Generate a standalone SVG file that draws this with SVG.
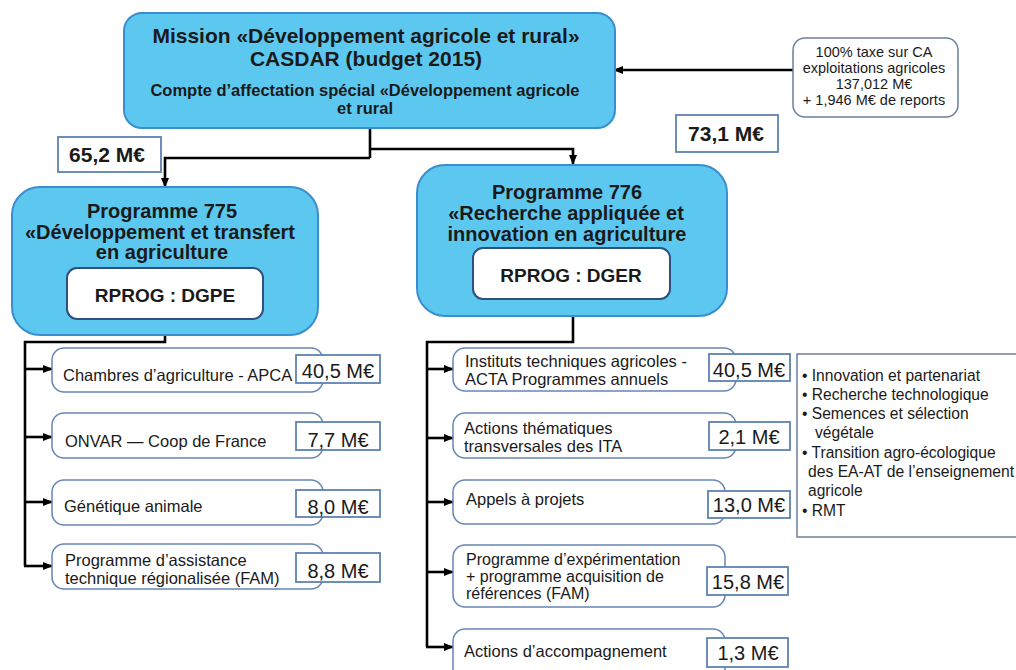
<svg xmlns="http://www.w3.org/2000/svg" width="1016" height="670" viewBox="0 0 1016 670">
<defs>
<marker id="ah" markerUnits="userSpaceOnUse" markerWidth="10" markerHeight="10" viewBox="0 0 10 10" refX="9" refY="5" orient="auto">
<path d="M0,1 L10,5 L0,9 z" fill="#000"/>
</marker>
<style>
.blue{fill:#5dc8ef;stroke:#3a8ecf;stroke-width:2}
.rprog{fill:#fff;stroke:#2f4f7f;stroke-width:2}
.item{fill:#fff;stroke:#6485b5;stroke-width:1.5}
.val{fill:#fff;stroke:#5f82b3;stroke-width:1.8}
.note{fill:#fff;stroke:#6b7f99;stroke-width:1.5}
.conn{fill:none;stroke:#000;stroke-width:2.6}
.arr{marker-end:url(#ah)}
text{font-family:"Liberation Sans",Arial,sans-serif;fill:#1a1a1a}
.t1{font-size:21px;font-weight:bold;text-anchor:middle}
.t2{font-size:16.5px;font-weight:bold;text-anchor:middle}
.tp{font-size:20px;font-weight:bold;text-anchor:middle}
.tr{font-size:19px;font-weight:bold;text-anchor:middle}
.tv{font-size:20px;text-anchor:middle}
.tvb{font-size:21px;font-weight:bold;text-anchor:middle}
.ti{font-size:16.5px}
.tm{font-size:16px}
.ts{font-size:14.5px;text-anchor:middle}
.tb{font-size:15.6px}
</style>
</defs>
<rect width="1016" height="670" fill="#fff"/>

<g id="connectors">
<path class="conn arr" d="M793,70 H614"/>
<path class="conn" d="M370,128 V158"/>
<path class="conn arr" d="M370,158 H165 V187"/>
<path class="conn arr" d="M370,149 H573 V164"/>
<path class="conn" d="M165,335 V342 H25 V566"/>
<path class="conn arr" d="M25,369 H52"/>
<path class="conn arr" d="M25,437 H52"/>
<path class="conn arr" d="M25,502 H52"/>
<path class="conn arr" d="M24,566 H52"/>
<path class="conn" d="M573,316 V342 H427 V647"/>
<path class="conn arr" d="M427,369 H453"/>
<path class="conn arr" d="M427,438 H453"/>
<path class="conn arr" d="M427,502 H453"/>
<path class="conn arr" d="M427,572 H453"/>
<path class="conn arr" d="M426,647 H453"/>
</g>

<g id="mission">
<rect class="blue" x="124" y="13" width="491" height="115" rx="18"/>
<text class="t1" x="366" y="43">Mission «Développement agricole et rural»</text>
<text class="t1" x="366" y="66">CASDAR (budget 2015)</text>
<text class="t2" x="365" y="96">Compte d’affectation spécial «Développement agricole</text>
<text class="t2" x="365" y="114">et rural</text>
</g>

<g id="source">
<rect class="note" x="793" y="38" width="165" height="79" rx="12"/>
<text class="ts" x="874" y="57">100% taxe sur CA</text>
<text class="ts" x="874" y="73">exploitations agricoles</text>
<text class="ts" x="874" y="89">137,012 M€</text>
<text class="ts" x="874" y="105">+ 1,946 M€ de reports</text>
</g>

<g id="amount-776">
<rect class="val" x="676" y="115" width="102" height="37"/>
<text class="tvb" x="726" y="141">73,1 M€</text>
</g>

<g id="amount-775">
<rect class="val" x="58" y="137" width="103" height="35"/>
<text class="tvb" x="107" y="162">65,2 M€</text>
</g>

<g id="prog775">
<rect class="blue" x="12" y="187" width="306" height="148" rx="28"/>
<text class="tp" x="162" y="218">Programme 775</text>
<text class="tp" x="160" y="239">«Développement et transfert</text>
<text class="tp" x="162" y="259">en agriculture</text>
<rect class="rprog" x="67" y="268" width="196" height="51" rx="10"/>
<text class="tr" x="165" y="302">RPROG : DGPE</text>
</g>

<g id="prog776">
<rect class="blue" x="417" y="165" width="310" height="151" rx="28"/>
<text class="tp" x="567" y="199">Programme 776</text>
<text class="tp" x="566" y="220">«Recherche appliquée et</text>
<text class="tp" x="567" y="241">innovation en agriculture</text>
<rect class="rprog" x="473" y="248" width="197" height="51" rx="10"/>
<text class="tr" x="571" y="282">RPROG : DGER</text>
</g>

<g id="item-apca">
<rect class="item" x="52" y="348" width="271" height="44" rx="12"/>
<text class="ti" x="63" y="381">Chambres d’agriculture - APCA</text>
<rect class="val" x="296" y="355" width="84" height="28"/>
<text class="tv" x="338" y="378">40,5 M€</text>
</g>
<g id="item-onvar">
<rect class="item" x="52" y="413" width="271" height="45" rx="12"/>
<text class="ti" x="65" y="447">ONVAR — Coop de France</text>
<rect class="val" x="296" y="422" width="84" height="28"/>
<text class="tv" x="338" y="447">7,7 M€</text>
</g>
<g id="item-genetique">
<rect class="item" x="52" y="480" width="271" height="45" rx="12"/>
<text class="ti" x="64" y="512">Génétique animale</text>
<rect class="val" x="296" y="490" width="84" height="27"/>
<text class="tv" x="338" y="514">8,0 M€</text>
</g>
<g id="item-assistance">
<rect class="item" x="52" y="544" width="271" height="45" rx="12"/>
<text class="ti" x="65" y="566">Programme d’assistance</text>
<text class="ti" x="65" y="584">technique régionalisée (FAM)</text>
<rect class="val" x="296" y="553" width="84" height="29"/>
<text class="tv" x="338" y="578">8,8 M€</text>
</g>

<g id="item-instituts">
<rect class="item" x="453" y="348" width="283" height="43" rx="12"/>
<text class="ti" x="465" y="367">Instituts techniques agricoles -</text>
<text class="ti" x="465" y="385">ACTA Programmes annuels</text>
<rect class="val" x="709" y="354" width="81" height="27"/>
<text class="tv" x="749" y="377">40,5 M€</text>
</g>
<g id="item-actions-ita">
<rect class="item" x="453" y="413" width="283" height="45" rx="12"/>
<text class="ti" x="464" y="434">Actions thématiques</text>
<text class="ti" x="464" y="452">transversales des ITA</text>
<rect class="val" x="709" y="422" width="81" height="28"/>
<text class="tv" x="749" y="444">2,1 M€</text>
</g>
<g id="item-appels">
<rect class="item" x="453" y="480" width="272" height="44" rx="12"/>
<text class="ti" x="466" y="505">Appels à projets</text>
<rect class="val" x="708" y="491" width="82" height="27"/>
<text class="tv" x="749" y="512">13,0 M€</text>
</g>
<g id="item-experimentation">
<rect class="item" x="453" y="545" width="272" height="62" rx="12"/>
<text class="tm" x="466" y="565">Programme d’expérimentation</text>
<text class="tm" x="466" y="582">+ programme acquisition de</text>
<text class="tm" x="466" y="599">références (FAM)</text>
<rect class="val" x="707" y="567" width="81" height="28"/>
<text class="tv" x="748" y="589">15,8 M€</text>
</g>
<g id="item-accompagnement">
<rect class="item" x="453" y="629" width="272" height="60" rx="12"/>
<text class="ti" x="464" y="657">Actions d’accompagnement</text>
<rect class="val" x="707" y="638" width="81" height="29"/>
<text class="tv" x="748" y="660">1,3 M€</text>
</g>

<g id="appels-detail">
<rect class="note" x="797" y="354" width="226" height="183"/>
<text class="tb" x="802" y="381">• Innovation et partenariat</text>
<text class="tb" x="802" y="400">• Recherche technologique</text>
<text class="tb" x="802" y="419">• Semences et sélection</text>
<text class="tb" x="815" y="438">végétale</text>
<text class="tb" x="802" y="458">• Transition agro-écologique</text>
<text class="tb" x="808" y="477" textLength="206" lengthAdjust="spacingAndGlyphs">des EA-AT de l’enseignement</text>
<text class="tb" x="808" y="496">agricole</text>
<text class="tb" x="802" y="516">• RMT</text>
</g>
</svg>
